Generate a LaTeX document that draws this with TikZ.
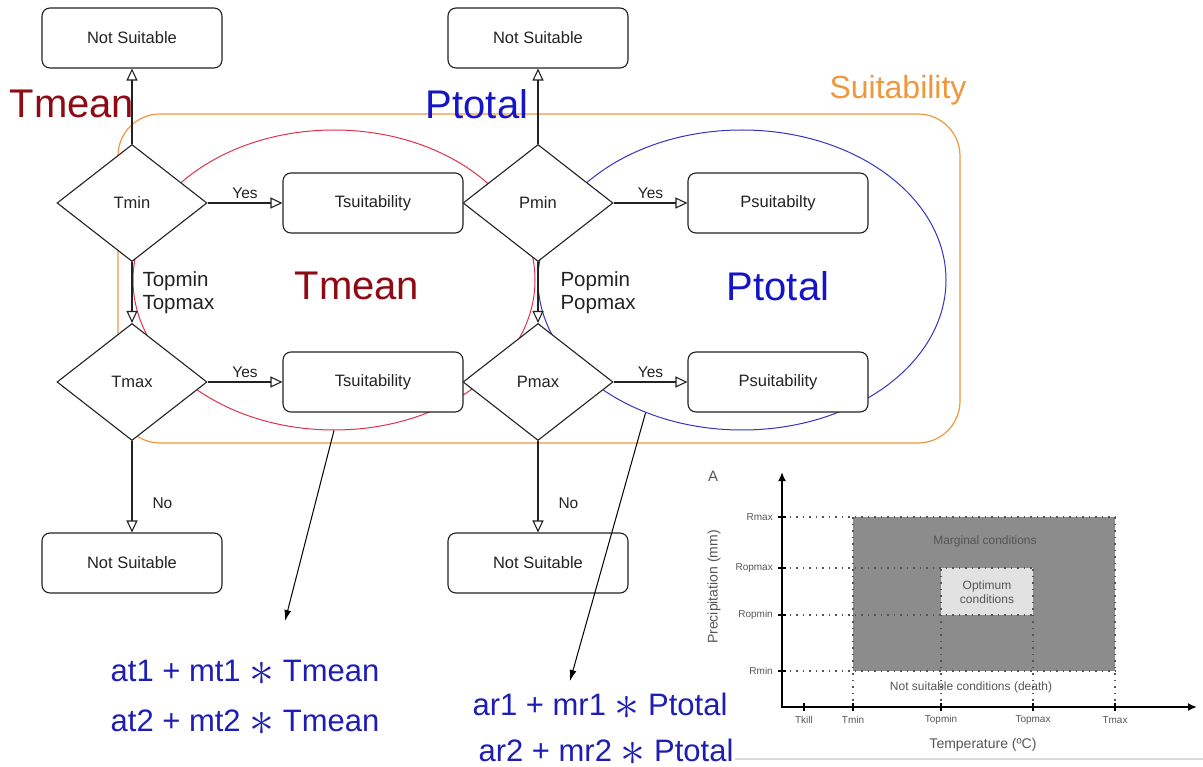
\documentclass[tikz,border=0pt]{standalone}
\usepackage{fontspec}
\setmainfont{Liberation Sans}
\usetikzlibrary{shapes.geometric,arrows.meta}
\definecolor{tred}{HTML}{8E0A14}
\definecolor{pblue}{HTML}{1414C8}
\definecolor{fblue}{HTML}{1E1EB4}
\definecolor{sorange}{HTML}{F0963C}
\definecolor{ered}{HTML}{E0304A}
\definecolor{eblue}{HTML}{3434C0}
\definecolor{ink}{HTML}{222222}
\definecolor{chartgray}{HTML}{8C8C8C}
\definecolor{optgray}{HTML}{E2E2E2}
\definecolor{charttext}{HTML}{555555}
\newcommand{\bigstar}{\smash{\raisebox{-4pt}{\scalebox{2}{$\ast$}}}}
\begin{document}
\begin{tikzpicture}[x=1pt,y=-1pt,
  box/.style={draw=ink, line width=1.1pt, rounded corners=8pt, fill=white, minimum width=180pt, minimum height=60pt, inner sep=0pt, font=\fontsize{16.5}{19}\selectfont, text=ink},
  dec/.style={diamond, draw=ink, line width=1.1pt, fill=white, minimum width=150pt, minimum height=117pt, inner sep=0pt, font=\fontsize{16.5}{19}\selectfont, text=ink},
  flow/.style={draw=ink, line width=1.1pt, -{Triangle[open, length=12pt, width=11pt, fill=white]}},
  lbl/.style={font=\fontsize{15.5}{18}\selectfont, text=ink, inner sep=1pt},
  oplbl/.style={font=\fontsize{20.5}{23}\selectfont, text=ink, align=left, inner sep=1pt},
  biglbl/.style={font=\fontsize{40}{44}\selectfont, inner sep=0pt},
  formula/.style={font=\fontsize{31}{33}\selectfont, text=fblue, inner sep=0pt, anchor=base},
  ell/.style={ellipse, line width=1pt, minimum width=#1, minimum height=300pt, inner sep=0pt},
  pointer/.style={draw=black, line width=1pt, -{Latex[length=11pt, width=7pt]}},
  dotl/.style={draw=charttext, line width=1.2pt, dash pattern=on 1.5pt off 5pt},
  ctick/.style={font=\fontsize{10}{12}\selectfont, text=charttext, inner sep=1pt},
  ctext/.style={font=\fontsize{12}{14}\selectfont, text=charttext, inner sep=0pt, align=center}
]
\useasboundingbox (0,0) rectangle (1203,767);

% grouping frames
\node[draw=sorange, line width=1.2pt, rounded corners=42pt, minimum width=842pt, minimum height=329pt, inner sep=0pt] (suit) at (539,278.5) {};
\node[ell=402pt, draw=ered] (tell) at (334,280) {};
\node[ell=408pt, draw=eblue] (pell) at (742,280) {};

% group labels
\node[biglbl, text=tred] (tmeanA) at (72,104) {Tmean};
\node[biglbl, text=pblue] (ptotalA) at (477,104) {Ptotal};
\node[font=\fontsize{32}{36}\selectfont, text=sorange, inner sep=0pt] (suitlbl) at (898,90) {Suitability};
\node[biglbl, text=tred] (tmeanB) at (357,286) {Tmean};
\node[biglbl, text=pblue] (ptotalB) at (778,286) {Ptotal};

% nodes
\node[box] (ns1) at (132,38) {Not Suitable};
\node[box] (ns2) at (538,38) {Not Suitable};
\node[box] (ns3) at (132,563) {Not Suitable};
\node[box] (ns4) at (538,563) {Not Suitable};
\node[dec] (tmin) at (132,203) {Tmin};
\node[dec] (tmax) at (132,382) {Tmax};
\node[dec] (pmin) at (538,203) {Pmin};
\node[dec] (pmax) at (538,382) {Pmax};
\node[box] (ts1) at (373,203) {Tsuitability};
\node[box] (ts2) at (373,382) {Tsuitability};
\node[box] (ps1) at (778,203) {Psuitabilty};
\node[box] (ps2) at (778,382) {Psuitability};

% flow connectors
\draw[flow] (tmin.north) -- (ns1.south);
\draw[flow] (pmin.north) -- (ns2.south);
\draw[flow] (tmin.east) -- node[lbl, midway, above=3pt] {Yes} (ts1.west);
\draw[flow] (tmax.east) -- node[lbl, midway, above=3pt] {Yes} (ts2.west);
\draw[flow] (pmin.east) -- node[lbl, midway, above=3pt] {Yes} (ps1.west);
\draw[flow] (pmax.east) -- node[lbl, midway, above=3pt] {Yes} (ps2.west);
\draw[flow] (tmin.south) -- node[oplbl, midway, right=9pt] {Topmin\\Topmax} (tmax.north);
\draw[flow] (pmin.south) -- node[oplbl, midway, right=21pt] {Popmin\\Popmax} (pmax.north);
\draw[flow] (tmax.south) -- node[lbl, pos=0.68, right=19pt] {No} (ns3.north);
\draw[flow] (pmax.south) -- node[lbl, pos=0.68, right=19pt] {No} (ns4.north);

% formulas
\node[formula] (f1) at (245,681) {at1 + mt1 \bigstar{} Tmean};
\node[formula] (f2) at (245,731) {at2 + mt2 \bigstar{} Tmean};
\node[formula] (f3) at (600,715) {ar1 + mr1 \bigstar{} Ptotal};
\node[formula] (f4) at (606,761) {ar2 + mr2 \bigstar{} Ptotal};
\coordinate (tend) at (285,621);
\coordinate (pend) at (570,681);
\draw[pointer] (tell.south) -- (tend);
\draw[pointer] (pell.-126) -- (pend);

% inset chart
\draw[draw=black!15, line width=1.5pt] (735,759) -- (1203,759);
\fill[chartgray] (853,517) rectangle (1115,671);
\fill[optgray] (941,568) rectangle (1033,615);
\draw[dotl] (783,517) -- (1115,517);
\draw[dotl] (783,568) -- (1033,568);
\draw[dotl] (783,615) -- (1033,615);
\draw[dotl] (783,671) -- (1115,671);
\draw[dotl] (853,707) -- (853,517);
\draw[dotl] (941,707) -- (941,568);
\draw[dotl] (1033,707) -- (1033,568);
\draw[dotl] (1115,707) -- (1115,517);
\draw[line width=2pt, -{Latex[length=9pt, width=8pt]}] (782,708) -- (782,472);
\draw[line width=2pt, -{Latex[length=9pt, width=8pt]}] (781,707) -- (1197,707);
\foreach \x/\t in {804/Tkill, 853/Tmin, 941/Topmin, 1033/Topmax, 1115/Tmax} {
  \draw[line width=2pt] (\x,703) -- (\x,711);
  \node[ctick] at (\x,720) {\t};
}
\foreach \y/\t in {517/Rmax, 568/Ropmax, 615/Ropmin, 671/Rmin} {
  \draw[line width=2pt] (778,\y) -- (786,\y);
  \node[ctick, anchor=east] at (774,\y) {\t};
}
\node[font=\fontsize{15}{18}\selectfont, text=charttext, inner sep=0pt] (chA) at (713,476) {A};
\node[ctext] (marg) at (985,541) {Marginal conditions};
\node[ctext] (opt) at (987,592) {Optimum\\conditions};
\node[ctext] (death) at (971,687) {Not suitable conditions (death)};
\node[ctext, font=\fontsize{14}{16}\selectfont] (xlab) at (983,745) {Temperature (ºC)};
\node[ctext, font=\fontsize{14}{16}\selectfont, rotate=90] (ylab) at (714,587) {Precipitation (mm)};
\end{tikzpicture}
\end{document}
